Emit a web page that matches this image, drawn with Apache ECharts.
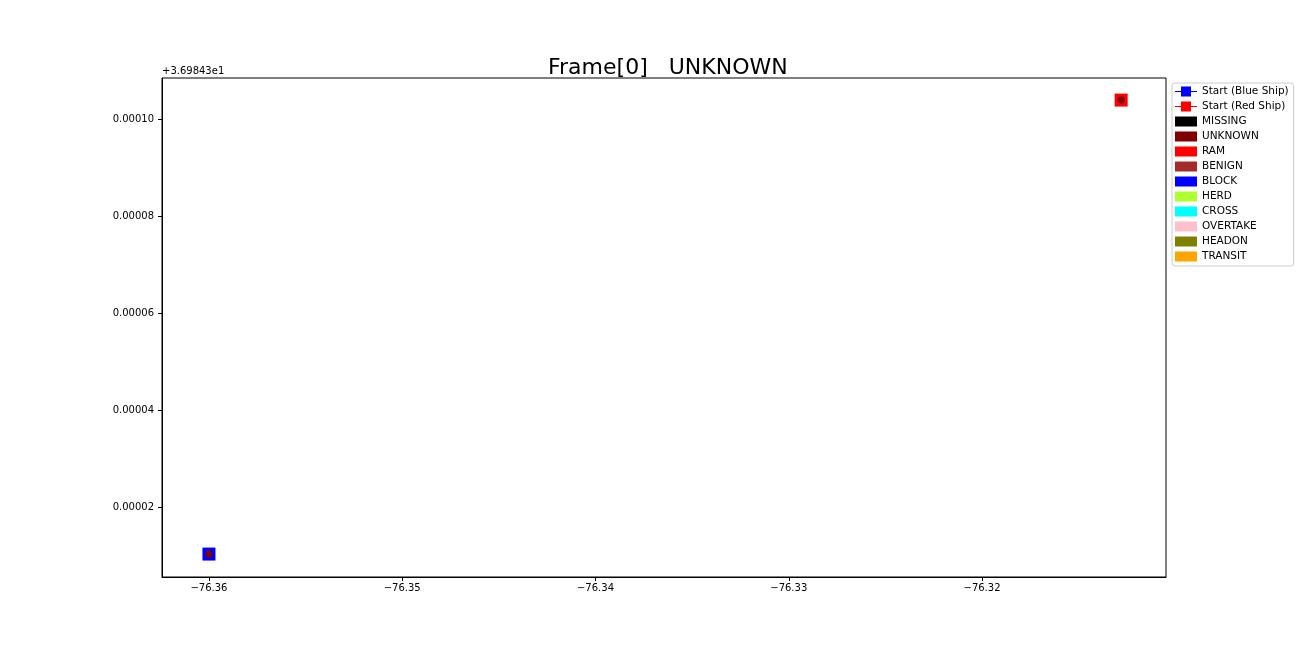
<!DOCTYPE html>
<html>
<head>
<meta charset="utf-8">
<script src="https://cdn.jsdelivr.net/npm/echarts@6/dist/echarts.min.js"></script>
<style>html,body{margin:0;background:#fff}#c{width:1296px;height:648px}</style>
</head>
<body>
<div id="c"></div>
<script>
// y values are offsets from 36.9843 (matplotlib shows "+3.69843e1")
var blueStart = [-76.36, 0.0000103];
var redStart = [-76.3128, 0.0001039];
var xTicks = [-76.36, -76.35, -76.34, -76.33, -76.32];
var yTicks = [0.00002, 0.00004, 0.00006, 0.00008, 0.00010];
var categories = ['MISSING', 'UNKNOWN', 'RAM', 'BENIGN', 'BLOCK', 'HERD', 'CROSS', 'OVERTAKE', 'HEADON', 'TRANSIT'];
var catColors = ['#000000', '#800000', '#ff0000', '#a52a2a', '#0000ff', '#adff2f', '#00ffff', '#ffc0cb', '#808000', '#ffa500'];

var chart = echarts.init(document.getElementById('c'));
var lineIcon = 'path://M0,4.6H6V0H16V4.6H22V5.4H16V10H6V5.4H0Z';
var font = 'DejaVu Sans';

var series = [
    {name: 'Start (Blue Ship)', type: 'scatter', symbol: 'rect', symbolSize: 13,
     itemStyle: {color: '#0000ff', opacity: 1}, data: [blueStart], z: 3},
    {name: 'Start (Red Ship)', type: 'scatter', symbol: 'rect', symbolSize: 13,
     itemStyle: {color: '#ff0000', opacity: 1}, data: [redStart], z: 3},
    {name: 'pos', type: 'scatter', symbol: 'circle', symbolSize: 7,
     itemStyle: {color: '#800000', opacity: 1}, data: [blueStart, redStart], z: 4}
];
categories.forEach(function (c, i) {
    series.push({name: c, type: 'scatter', itemStyle: {color: catColors[i], opacity: 1}, data: []});
});

var legendData = [
    {name: 'Start (Blue Ship)', icon: lineIcon},
    {name: 'Start (Red Ship)', icon: lineIcon}
].concat(categories.map(function (c) { return {name: c, icon: 'rect'}; }));

chart.setOption({
    animation: false,
    backgroundColor: '#ffffff',
    title: {text: 'Frame[0]   UNKNOWN', left: 543, top: 52,
            textStyle: {fontFamily: font, fontSize: 22, fontWeight: 'normal', color: '#000'}},
    legend: {
        data: legendData, orient: 'vertical', left: 1172, top: 83,
        itemWidth: 22, itemHeight: 10, itemGap: 4,
        padding: [3, 5, 4, 3],
        borderColor: '#cccccc', borderWidth: 1, borderRadius: 3,
        textStyle: {fontFamily: font, fontSize: 10.5, color: '#000'},
        selectedMode: false
    },
    grid: {left: 162, top: 78, width: 1004, height: 499},
    xAxis: {
        type: 'value', min: -76.36243, max: -76.31048, scale: true,
        splitLine: {show: false},
        axisLine: {onZero: false, lineStyle: {color: '#000'}},
        axisTick: {length: 4, lineStyle: {color: '#000'}, customValues: xTicks},
        axisLabel: {customValues: xTicks, color: '#000', fontFamily: font, fontSize: 10, margin: 6,
                    formatter: function (v) { return '\u2212' + Math.abs(v).toFixed(2); }}
    },
    yAxis: {
        type: 'value', min: 0.00000557, max: 0.00010845, scale: true,
        splitLine: {show: false},
        axisLine: {onZero: false, lineStyle: {color: '#000'}},
        axisTick: {length: 4, lineStyle: {color: '#000'}, customValues: yTicks},
        axisLabel: {customValues: yTicks, color: '#000', fontFamily: font, fontSize: 10, margin: 8,
                    formatter: function (v) { return v.toFixed(5); }}
    },
    graphic: [
        {type: 'text', left: 162, top: 66, style: {text: '+3.69843e1', font: '10px DejaVu Sans', fill: '#000'}},
        {type: 'rect', shape: {x: 162, y: 78, width: 1004, height: 499},
         style: {fill: null, stroke: '#000', lineWidth: 1}, silent: true}
    ],
    series: series
});
</script>
</body>
</html>
